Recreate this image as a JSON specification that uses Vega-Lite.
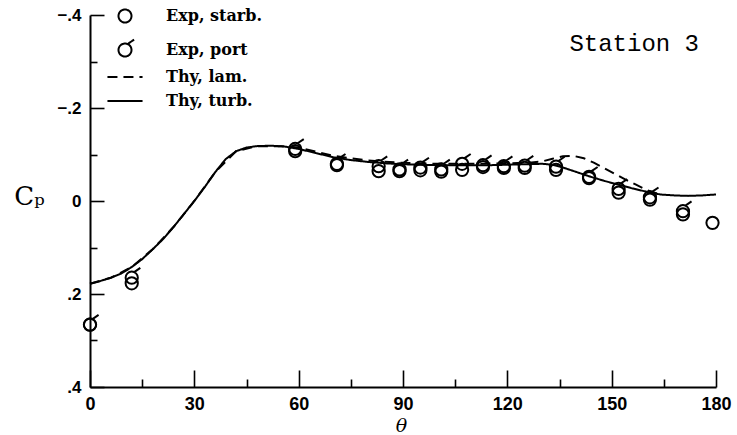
{
  "$schema": "https://vega.github.io/schema/vega-lite/v6.json",
  "width": 626,
  "height": 372,
  "autosize": {"type": "none"},
  "padding": {"left": 90, "top": 15, "right": 21, "bottom": 48},
  "background": "white",
  "title": {"text": "Station 3", "anchor": "end", "orient": "top", "offset": -50, "dx": -32, "font": "Liberation Mono", "fontSize": 24, "fontWeight": "normal", "color": "black"},
  "datasets": {
    "curves": [
      {"series": "Thy, turb.", "theta": 0, "cp": 0.178}, {"series": "Thy, turb.", "theta": 3, "cp": 0.172}, {"series": "Thy, turb.", "theta": 6, "cp": 0.165}, {"series": "Thy, turb.", "theta": 9, "cp": 0.156}, {"series": "Thy, turb.", "theta": 12, "cp": 0.142}, {"series": "Thy, turb.", "theta": 15, "cp": 0.125}, {"series": "Thy, turb.", "theta": 18, "cp": 0.104}, {"series": "Thy, turb.", "theta": 21, "cp": 0.082}, {"series": "Thy, turb.", "theta": 24, "cp": 0.056}, {"series": "Thy, turb.", "theta": 27, "cp": 0.028}, {"series": "Thy, turb.", "theta": 30, "cp": 0.0}, {"series": "Thy, turb.", "theta": 33, "cp": -0.03}, {"series": "Thy, turb.", "theta": 36, "cp": -0.062}, {"series": "Thy, turb.", "theta": 39, "cp": -0.09}, {"series": "Thy, turb.", "theta": 42, "cp": -0.107}, {"series": "Thy, turb.", "theta": 45, "cp": -0.115}, {"series": "Thy, turb.", "theta": 48, "cp": -0.118}, {"series": "Thy, turb.", "theta": 52, "cp": -0.119}, {"series": "Thy, turb.", "theta": 56, "cp": -0.117}, {"series": "Thy, turb.", "theta": 60, "cp": -0.112}, {"series": "Thy, turb.", "theta": 65, "cp": -0.103}, {"series": "Thy, turb.", "theta": 70, "cp": -0.094}, {"series": "Thy, turb.", "theta": 75, "cp": -0.088}, {"series": "Thy, turb.", "theta": 80, "cp": -0.084}, {"series": "Thy, turb.", "theta": 85, "cp": -0.081}, {"series": "Thy, turb.", "theta": 90, "cp": -0.079}, {"series": "Thy, turb.", "theta": 95, "cp": -0.078}, {"series": "Thy, turb.", "theta": 100, "cp": -0.077}, {"series": "Thy, turb.", "theta": 105, "cp": -0.077}, {"series": "Thy, turb.", "theta": 110, "cp": -0.077}, {"series": "Thy, turb.", "theta": 115, "cp": -0.077}, {"series": "Thy, turb.", "theta": 120, "cp": -0.078}, {"series": "Thy, turb.", "theta": 125, "cp": -0.079}, {"series": "Thy, turb.", "theta": 130, "cp": -0.08}, {"series": "Thy, turb.", "theta": 133, "cp": -0.078}, {"series": "Thy, turb.", "theta": 136, "cp": -0.072}, {"series": "Thy, turb.", "theta": 140, "cp": -0.062}, {"series": "Thy, turb.", "theta": 144, "cp": -0.052}, {"series": "Thy, turb.", "theta": 148, "cp": -0.043}, {"series": "Thy, turb.", "theta": 152, "cp": -0.035}, {"series": "Thy, turb.", "theta": 156, "cp": -0.027}, {"series": "Thy, turb.", "theta": 160, "cp": -0.02}, {"series": "Thy, turb.", "theta": 164, "cp": -0.014}, {"series": "Thy, turb.", "theta": 168, "cp": -0.012}, {"series": "Thy, turb.", "theta": 172, "cp": -0.011}, {"series": "Thy, turb.", "theta": 176, "cp": -0.012}, {"series": "Thy, turb.", "theta": 180, "cp": -0.014},
      {"series": "Thy, lam.", "theta": 0, "cp": 0.178}, {"series": "Thy, lam.", "theta": 6, "cp": 0.165}, {"series": "Thy, lam.", "theta": 12, "cp": 0.142}, {"series": "Thy, lam.", "theta": 18, "cp": 0.104}, {"series": "Thy, lam.", "theta": 24, "cp": 0.056}, {"series": "Thy, lam.", "theta": 30, "cp": 0.0}, {"series": "Thy, lam.", "theta": 36, "cp": -0.062}, {"series": "Thy, lam.", "theta": 42, "cp": -0.107}, {"series": "Thy, lam.", "theta": 48, "cp": -0.118}, {"series": "Thy, lam.", "theta": 56, "cp": -0.118}, {"series": "Thy, lam.", "theta": 60, "cp": -0.115}, {"series": "Thy, lam.", "theta": 70, "cp": -0.097}, {"series": "Thy, lam.", "theta": 80, "cp": -0.087}, {"series": "Thy, lam.", "theta": 90, "cp": -0.082}, {"series": "Thy, lam.", "theta": 100, "cp": -0.08}, {"series": "Thy, lam.", "theta": 110, "cp": -0.08}, {"series": "Thy, lam.", "theta": 120, "cp": -0.081}, {"series": "Thy, lam.", "theta": 127, "cp": -0.083}, {"series": "Thy, lam.", "theta": 130, "cp": -0.085}, {"series": "Thy, lam.", "theta": 133, "cp": -0.091}, {"series": "Thy, lam.", "theta": 136, "cp": -0.096}, {"series": "Thy, lam.", "theta": 139, "cp": -0.097}, {"series": "Thy, lam.", "theta": 142, "cp": -0.092}, {"series": "Thy, lam.", "theta": 145, "cp": -0.082}, {"series": "Thy, lam.", "theta": 148, "cp": -0.07}, {"series": "Thy, lam.", "theta": 151, "cp": -0.058}, {"series": "Thy, lam.", "theta": 154, "cp": -0.046}, {"series": "Thy, lam.", "theta": 157, "cp": -0.035}, {"series": "Thy, lam.", "theta": 160, "cp": -0.024}, {"series": "Thy, lam.", "theta": 163, "cp": -0.016}
    ],
    "points": [
      {"series": "Exp, starb.", "theta": 0, "cp": 0.266}, {"series": "Exp, port", "theta": 0, "cp": 0.266},
      {"series": "Exp, starb.", "theta": 12, "cp": 0.177}, {"series": "Exp, port", "theta": 12, "cp": 0.165},
      {"series": "Exp, starb.", "theta": 59, "cp": -0.107}, {"series": "Exp, port", "theta": 59, "cp": -0.112},
      {"series": "Exp, starb.", "theta": 71, "cp": -0.077}, {"series": "Exp, port", "theta": 71, "cp": -0.08},
      {"series": "Exp, starb.", "theta": 83, "cp": -0.064}, {"series": "Exp, port", "theta": 83, "cp": -0.075},
      {"series": "Exp, starb.", "theta": 89, "cp": -0.064}, {"series": "Exp, port", "theta": 89, "cp": -0.068},
      {"series": "Exp, starb.", "theta": 95, "cp": -0.066}, {"series": "Exp, port", "theta": 95, "cp": -0.072},
      {"series": "Exp, starb.", "theta": 101, "cp": -0.063}, {"series": "Exp, port", "theta": 101, "cp": -0.068},
      {"series": "Exp, starb.", "theta": 107, "cp": -0.067}, {"series": "Exp, port", "theta": 107, "cp": -0.08},
      {"series": "Exp, starb.", "theta": 113, "cp": -0.073}, {"series": "Exp, port", "theta": 113, "cp": -0.077},
      {"series": "Exp, starb.", "theta": 119, "cp": -0.071}, {"series": "Exp, port", "theta": 119, "cp": -0.075},
      {"series": "Exp, starb.", "theta": 125, "cp": -0.071}, {"series": "Exp, port", "theta": 125, "cp": -0.076},
      {"series": "Exp, starb.", "theta": 134, "cp": -0.067}, {"series": "Exp, port", "theta": 134, "cp": -0.074},
      {"series": "Exp, starb.", "theta": 143.5, "cp": -0.049}, {"series": "Exp, port", "theta": 143.5, "cp": -0.052},
      {"series": "Exp, starb.", "theta": 152, "cp": -0.018}, {"series": "Exp, port", "theta": 152, "cp": -0.026},
      {"series": "Exp, starb.", "theta": 161, "cp": -0.003}, {"series": "Exp, port", "theta": 161, "cp": -0.008},
      {"series": "Exp, starb.", "theta": 170.5, "cp": 0.029}, {"series": "Exp, port", "theta": 170.5, "cp": 0.022},
      {"series": "Exp, starb.", "theta": 179, "cp": 0.047}
    ]
  },
  "encoding": {
    "x": {"field": "theta", "type": "quantitative", "scale": {"domain": [0, 180], "nice": false},
      "axis": {"title": "θ", "values": [0, 15, 30, 45, 60, 75, 90, 105, 120, 135, 150, 165, 180],
        "labelExpr": "datum.value % 30 === 0 ? datum.label : ''",
        "tickSize": {"condition": {"test": "datum.value % 30 === 0", "value": -17}, "value": -8},
        "labelPadding": 25, "labelFont": "Liberation Sans", "labelFontWeight": "bold", "labelFontSize": 18,
        "titleFont": "DejaVu Serif", "titleFontStyle": "italic", "titleFontWeight": "normal", "titleFontSize": 19,
        "titleX": 311, "titleY": 38, "titleAlign": "center", "titleBaseline": "middle", "labelFlush": false, "labelOverlap": false}},
    "y": {"field": "cp", "type": "quantitative", "scale": {"domain": [-0.4, 0.4], "reverse": true, "nice": false},
      "axis": {"title": "Cₚ", "values": [-0.4, -0.3, -0.2, -0.1, 0, 0.1, 0.2, 0.3, 0.4],
        "labelExpr": "round(abs(datum.value)*10) % 2 === 1 ? '' : (datum.value === 0 ? '0' : (datum.value < 0 ? '−' : '') + '.' + round(abs(datum.value)*10))",
        "tickSize": {"condition": {"test": "round(abs(datum.value)*10) % 2 === 0", "value": -14}, "value": -7},
        "labelPadding": 23, "labelFont": "Liberation Sans", "labelFontWeight": "bold", "labelFontSize": 17,
        "titleAngle": 0, "titleX": -61, "titleY": 181, "titleAlign": "center", "titleBaseline": "middle",
        "titleFont": "DejaVu Serif", "titleFontWeight": "normal", "titleFontSize": 26, "labelOverlap": false, "labelFlush": false}}
  },
  "layer": [
    {
      "data": {"name": "curves"},
      "mark": {"type": "line", "color": "black", "strokeWidth": 2},
      "encoding": {
        "strokeDash": {"field": "series", "type": "nominal",
          "scale": {"domain": ["Exp, starb.", "Exp, port", "Thy, lam.", "Thy, turb."], "range": [[1, 0], [1, 0], [10, 6], [1, 0]]},
          "legend": {"title": null}},
        "detail": {"field": "series"}
      }
    },
    {
      "data": {"name": "points"},
      "mark": {"type": "point", "filled": false, "color": "black", "strokeWidth": 2, "size": 150, "opacity": 1},
      "encoding": {
        "shape": {"field": "series", "type": "nominal",
          "scale": {"domain": ["Exp, starb.", "Exp, port", "Thy, lam.", "Thy, turb."],
            "range": ["circle", "M1,0A1,1,0,1,1,-1,0A1,1,0,1,1,1,0M0.4,-0.92L1.4,-1.6", "M-2.7,0L2.7,0", "M-2.7,0L2.7,0"]},
          "legend": {"title": null}}
      }
    }
  ],
  "resolve": {"legend": {"shape": "shared", "strokeDash": "shared"}},
  "config": {
    "view": {"stroke": null},
    "axis": {"domainColor": "black", "domainWidth": 2, "tickColor": "black", "tickWidth": 1.6, "labelColor": "black", "titleColor": "black", "grid": false},
    "legend": {"orient": "none", "legendX": 27, "legendY": -7, "symbolSize": 169, "symbolStrokeWidth": 2, "symbolStrokeColor": "black", "symbolFillColor": "transparent",
      "labelFont": "DejaVu Serif", "labelFontWeight": "bold", "labelFontSize": 16, "labelColor": "black", "labelOffset": 33, "rowPadding": 8, "padding": 0, "labelLimit": 300}
  }
}
